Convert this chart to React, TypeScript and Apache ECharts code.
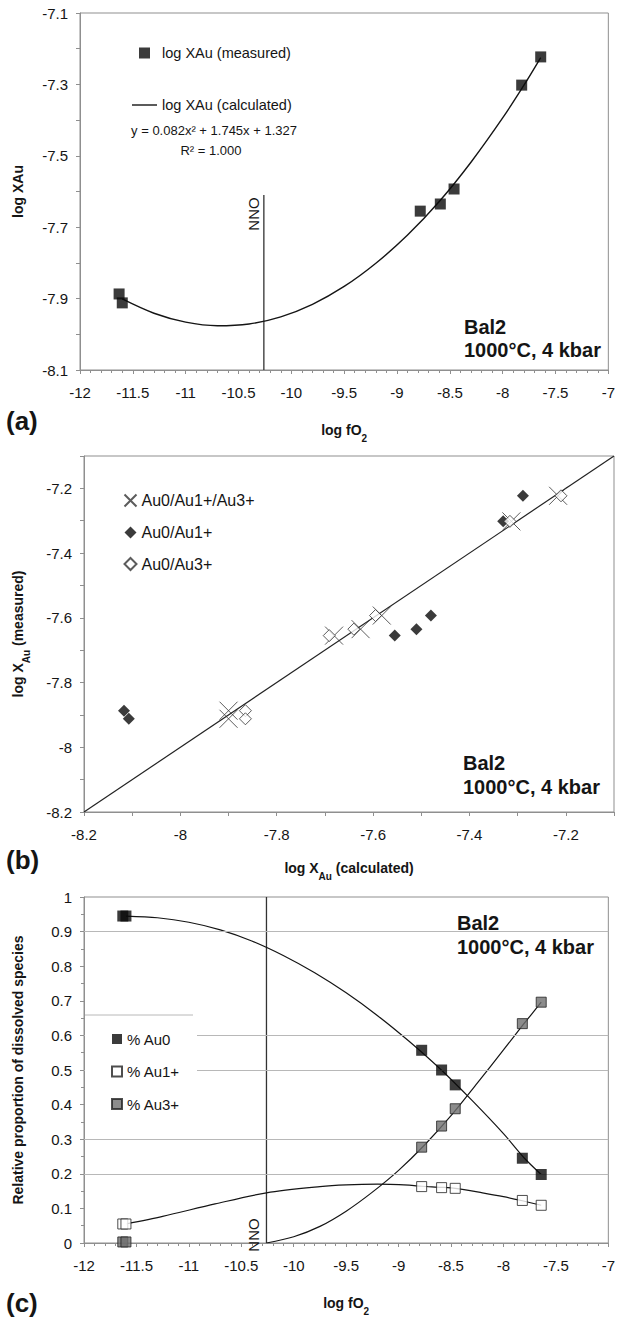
import React, { useEffect, useRef } from 'react';
import * as echarts from 'echarts';

const FONT = '"Liberation Sans", Arial, Helvetica, sans-serif';
const INK = '#151515';
const FRAME = '#8f8f8f';

// ---------- Panel (a): log XAu vs log fO2 ----------
const fO2 = [-11.63, -11.6, -8.78, -8.59, -8.46, -7.82, -7.64];
const logXMeasured = [-7.887, -7.912, -7.655, -7.635, -7.593, -7.302, -7.223];
const fitAX = [-11.6, -11.3, -11.0, -10.7, -10.4, -10.1, -9.8, -9.5, -9.2, -8.9, -8.6, -8.3, -8.0, -7.8, -7.64];
const fitAY = [-7.901, -7.941, -7.966, -7.976, -7.971, -7.951, -7.916, -7.866, -7.801, -7.722, -7.628, -7.518, -7.394, -7.303, -7.225];
const NNO = -10.26;
const nnoTopA = -7.61;
const yRangeA = [-8.1, -7.1];
const xRange = [-12, -7];

// ---------- Panel (b): measured vs calculated ----------
const calcAll = [-7.9, -7.9, -7.681, -7.626, -7.582, -7.313, -7.216];
const calcAu1 = [-8.117, -8.107, -7.555, -7.51, -7.48, -7.33, -7.289];
const calcAu3 = [-7.865, -7.865, -7.691, -7.64, -7.595, -7.316, -7.21];
const rangeB = [-8.2, -7.1];

// ---------- Panel (c): relative proportion of species ----------
const pAu0 = [0.945, 0.945, 0.557, 0.5, 0.457, 0.245, 0.198];
const pAu1 = [0.055, 0.055, 0.163, 0.16, 0.158, 0.123, 0.109];
const pAu3 = [0.003, 0.003, 0.277, 0.338, 0.388, 0.634, 0.696];
const fitAu0X = [-11.6, -11.3, -11.0, -10.7, -10.4, -10.1, -9.8, -9.5, -9.2, -8.9, -8.6, -8.3, -8.0, -7.8, -7.64];
const fitAu0Y = [0.945, 0.94, 0.927, 0.905, 0.873, 0.831, 0.781, 0.723, 0.657, 0.583, 0.502, 0.412, 0.316, 0.245, 0.198];
const fitAu1X = [-11.6, -11.25, -10.75, -10.26, -9.75, -9.5, -9.2, -8.9, -8.78, -8.59, -8.46, -8.2, -8.0, -7.82, -7.64];
const fitAu1Y = [0.055, 0.077, 0.113, 0.145, 0.163, 0.168, 0.17, 0.167, 0.164, 0.161, 0.158, 0.145, 0.134, 0.122, 0.109];
const fitAu3X = [-10.26, -10.0, -9.75, -9.5, -9.25, -9.0, -8.75, -8.5, -8.25, -8.0, -7.82, -7.64];
const fitAu3Y = [0, 0.018, 0.048, 0.092, 0.147, 0.21, 0.284, 0.368, 0.462, 0.558, 0.628, 0.696];
const gridLevelsC = [0.9, 0.6, 0.5, 0.3, 0.2];
const yRangeC = [0, 1];

const zip = (xs: number[], ys: number[]) => xs.map((x, i) => [x, ys[i]]);

const subRich = {
  sub: { fontSize: 10, fontWeight: 'bold', fontFamily: FONT, color: INK, verticalAlign: 'bottom', lineHeight: 20, padding: [0, 0, -3, 0] },
};

function axisBase(extra: any) {
  return {
    type: 'value',
    axisLine: { show: true, onZero: false, lineStyle: { color: FRAME, width: 1 } },
    axisTick: { show: true, length: 4, lineStyle: { color: FRAME } },
    splitLine: { show: false },
    axisLabel: { color: INK, fontSize: 15, fontFamily: FONT },
    nameLocation: 'middle',
    nameTextStyle: { color: INK, fontSize: 14, fontWeight: 'bold', fontFamily: FONT, lineHeight: 20, rich: subRich },
    ...extra,
  };
}

const oddTenths = (v: number) => {
  const t = Math.round(v * 10);
  return Math.abs(t) % 2 === 1 ? String(t / 10) : '';
};
const evenTenths = (v: number) => {
  const t = Math.round(v * 10);
  return Math.abs(t) % 2 === 0 ? String(t / 10) : '';
};

function text(x: number, y: number, t: string, size: number, bold: boolean, align = 'left', rotation = 0) {
  return {
    type: 'text',
    x,
    y,
    rotation,
    z: 20,
    style: {
      text: t,
      fill: INK,
      font: `${bold ? 'bold ' : ''}${size}px ${FONT}`,
      textAlign: align,
      textVerticalAlign: 'middle',
    },
  };
}

export default function App() {
  const ref = useRef<HTMLDivElement>(null);

  useEffect(() => {
    document.body.style.margin = '0';
    if (!ref.current) return;
    const chart = echarts.init(ref.current, undefined, { renderer: 'svg' });

    const option: any = {
      animation: false,
      backgroundColor: '#ffffff',
      textStyle: { fontFamily: FONT },
      grid: [
        { left: 77, top: 13, width: 535, height: 357, show: true, borderColor: FRAME, borderWidth: 1 },
        { left: 76, top: 456, width: 538, height: 356, show: true, borderColor: FRAME, borderWidth: 1 },
        { left: 77, top: 897, width: 534, height: 358, show: true, borderColor: FRAME, borderWidth: 1 },
      ],
      xAxis: [
        axisBase({
          gridIndex: 0, min: xRange[0], max: xRange[1], interval: 0.5,
          minorTick: { show: true, splitNumber: 5, length: 3, lineStyle: { color: FRAME } },
          axisLabel: { color: INK, fontSize: 15, fontFamily: FONT, margin: 15 },
          name: 'log fO{sub|2}', nameGap: 50,
        }),
        axisBase({
          gridIndex: 1, min: rangeB[0], max: rangeB[1], interval: 0.1,
          axisLabel: { color: INK, fontSize: 15, fontFamily: FONT, margin: 15, formatter: evenTenths },
          name: 'log X{sub|Au} (calculated)', nameGap: 46,
        }),
        axisBase({
          gridIndex: 2, min: xRange[0], max: xRange[1], interval: 0.5,
          minorTick: { show: true, splitNumber: 5, length: 3, lineStyle: { color: FRAME } },
          axisLabel: { color: INK, fontSize: 15, fontFamily: FONT, margin: 15 },
          name: 'log fO{sub|2}', nameGap: 50,
        }),
      ],
      yAxis: [
        axisBase({
          gridIndex: 0, min: yRangeA[0], max: yRangeA[1], interval: 0.1,
          axisLabel: { color: INK, fontSize: 15, fontFamily: FONT, margin: 12, formatter: oddTenths },
          name: 'log XAu', nameGap: 52,
        }),
        axisBase({
          gridIndex: 1, min: rangeB[0], max: rangeB[1], interval: 0.1,
          axisLabel: { color: INK, fontSize: 15, fontFamily: FONT, margin: 12, formatter: evenTenths },
          name: 'log X{sub|Au} (measured)', nameGap: 56,
        }),
        axisBase({
          gridIndex: 2, min: yRangeC[0], max: yRangeC[1], interval: 0.1,
          minorTick: { show: true, splitNumber: 2, length: 3, lineStyle: { color: FRAME } },
          axisLabel: { color: INK, fontSize: 15, fontFamily: FONT, margin: 12 },
          name: 'Relative proportion of dissolved species', nameGap: 56,
        }),
      ],
      legend: [
        {
          data: [
            { name: 'log XAu (measured)', icon: 'path://M0,0H10V10H0Z' },
            { name: 'log XAu (calculated)', icon: 'path://M0,0H25V1.4H0Z' },
          ],
          orient: 'vertical', left: 127, top: 40, itemWidth: 25, itemHeight: 11, itemGap: 36,
          selectedMode: false, z: 30,
          textStyle: { fontSize: 14.5, fontFamily: FONT, color: INK, lineHeight: 16 },
        },
        {
          data: ['Au0/Au1+/Au3+', 'Au0/Au1+', 'Au0/Au3+'],
          orient: 'vertical', left: 117, top: 487, itemWidth: 12, itemHeight: 12, itemGap: 15.5,
          selectedMode: false, z: 30,
          textStyle: { fontSize: 16, fontFamily: FONT, color: INK, lineHeight: 16 },
        },
        {
          data: ['% Au0', '% Au1+', '% Au3+'],
          orient: 'vertical', left: 106, top: 1026, itemWidth: 10, itemHeight: 10, itemGap: 16.5,
          selectedMode: false, z: 30,
          textStyle: { fontSize: 15, fontFamily: FONT, color: INK, lineHeight: 16 },
        },
      ],
      series: [
        // ---- (a)
        {
          name: 'NNO (a)', type: 'line', xAxisIndex: 0, yAxisIndex: 0,
          data: [[NNO, yRangeA[0]], [NNO, nnoTopA]], symbol: 'none',
          lineStyle: { color: '#333', width: 1.3 }, z: 1,
        },
        {
          name: 'log XAu (calculated)', type: 'line', xAxisIndex: 0, yAxisIndex: 0,
          data: zip(fitAX, fitAY), smooth: 0.35, symbol: 'none',
          lineStyle: { color: INK, width: 1.4 }, itemStyle: { color: INK }, z: 2,
        },
        {
          name: 'log XAu (measured)', type: 'scatter', xAxisIndex: 0, yAxisIndex: 0,
          data: zip(fO2, logXMeasured), symbol: 'rect', symbolSize: 11,
          itemStyle: { color: '#0a0a0a' }, z: 5,
        },
        // ---- (b)
        {
          name: '1:1', type: 'line', xAxisIndex: 1, yAxisIndex: 1,
          data: zip(rangeB, rangeB), symbol: 'none',
          lineStyle: { color: '#222', width: 1.2 }, z: 1,
        },
        {
          name: 'Au0/Au1+/Au3+', type: 'scatter', xAxisIndex: 1, yAxisIndex: 1,
          data: zip(calcAll, logXMeasured), symbol: 'path://M0,0L10,10M10,0L0,10', symbolSize: 18,
          itemStyle: { color: 'none', borderColor: '#333', borderWidth: 1 }, z: 4,
        },
        {
          name: 'Au0/Au1+', type: 'scatter', xAxisIndex: 1, yAxisIndex: 1,
          data: zip(calcAu1, logXMeasured), symbol: 'diamond', symbolSize: 12,
          itemStyle: { color: '#0a0a0a' }, z: 5,
        },
        {
          name: 'Au0/Au3+', type: 'scatter', xAxisIndex: 1, yAxisIndex: 1,
          data: zip(calcAu3, logXMeasured), symbol: 'diamond', symbolSize: 12,
          itemStyle: { color: '#ffffff', borderColor: '#333', borderWidth: 1 }, z: 5,
        },
        // ---- (c)
        {
          name: 'NNO (c)', type: 'line', xAxisIndex: 2, yAxisIndex: 2,
          data: [[NNO, yRangeC[0]], [NNO, yRangeC[1]]], symbol: 'none',
          lineStyle: { color: '#333', width: 1.3 }, z: 1,
          markLine: {
            silent: true, symbol: 'none', label: { show: false },
            lineStyle: { color: '#b8b8b8', type: 'solid', width: 1 },
            data: gridLevelsC.map((v) => ({ yAxis: v })),
          },
        },
        {
          name: 'fit Au0', type: 'line', xAxisIndex: 2, yAxisIndex: 2,
          data: zip(fitAu0X, fitAu0Y), smooth: 0.3, symbol: 'none',
          lineStyle: { color: INK, width: 1.2 }, z: 2,
        },
        {
          name: 'fit Au1', type: 'line', xAxisIndex: 2, yAxisIndex: 2,
          data: zip(fitAu1X, fitAu1Y), smooth: 0.3, symbol: 'none',
          lineStyle: { color: INK, width: 1.2 }, z: 2,
        },
        {
          name: 'fit Au3', type: 'line', xAxisIndex: 2, yAxisIndex: 2,
          data: zip(fitAu3X, fitAu3Y), smooth: 0.3, symbol: 'none',
          lineStyle: { color: INK, width: 1.2 }, z: 2,
        },
        {
          name: '% Au0', type: 'scatter', xAxisIndex: 2, yAxisIndex: 2,
          data: zip(fO2, pAu0), symbol: 'rect', symbolSize: 11,
          itemStyle: { color: '#0a0a0a' }, z: 5,
        },
        {
          name: '% Au1+', type: 'scatter', xAxisIndex: 2, yAxisIndex: 2,
          data: zip(fO2, pAu1), symbol: 'rect', symbolSize: 10,
          itemStyle: { color: '#ffffff', borderColor: '#222', borderWidth: 1 }, z: 5,
        },
        {
          name: '% Au3+', type: 'scatter', xAxisIndex: 2, yAxisIndex: 2,
          data: zip(fO2, pAu3), symbol: 'rect', symbolSize: 10,
          itemStyle: { color: '#6f6f6f', borderColor: '#222', borderWidth: 1 }, z: 5,
        },
      ],
      graphic: [
        // legend box in (c)
        { type: 'rect', z: 10, shape: { x: 85, y: 1015, width: 112, height: 107 }, style: { fill: '#ffffff' } },
        { type: 'line', z: 11, shape: { x1: 85, y1: 1015, x2: 193, y2: 1015 }, style: { stroke: '#b8b8b8', lineWidth: 1 } },
        // (a) annotations
        text(214, 130, 'y = 0.082x² + 1.745x + 1.327', 13, false, 'center'),
        text(211, 150, 'R² = 1.000', 13, false, 'center'),
        text(253, 214, 'NNO', 15, false, 'center', Math.PI / 2),
        text(464, 327, 'Bal2', 20, true),
        text(464, 350, '1000°C, 4 kbar', 20, true),
        text(6, 421, '(a)', 26, true),
        // (b)
        text(463, 763, 'Bal2', 20, true),
        text(463, 787, '1000°C, 4 kbar', 20, true),
        text(6, 860, '(b)', 26, true),
        // (c)
        text(457, 923, 'Bal2', 20, true),
        text(457, 947, '1000°C, 4 kbar', 20, true),
        text(253, 1235, 'NNO', 15, false, 'center', Math.PI / 2),
        text(6, 1303, '(c)', 26, true),
      ],
    };

    chart.setOption(option);
    return () => chart.dispose();
  }, []);

  return <div ref={ref} style={{ width: 618, height: 1317 }} />;
}
